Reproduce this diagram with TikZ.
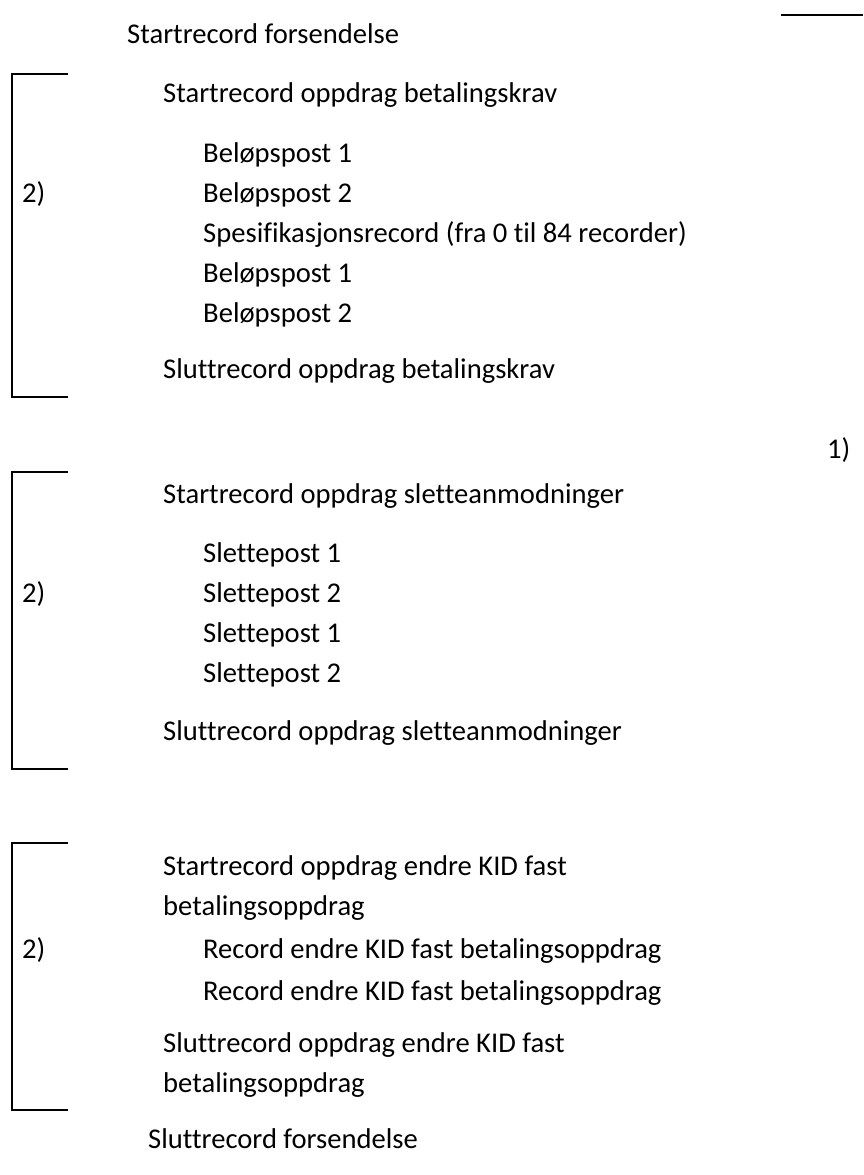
\documentclass[tikz,border=0pt]{standalone}
\usepackage{fontspec}
\setmainfont{Carlito}[Ligatures=NoCommon]
\begin{document}
\begin{tikzpicture}[x=1pt,y=-1pt,
  txt/.style={anchor=base west,inner sep=0pt,font=\fontsize{28.6}{32}\selectfont},
  brk/.style={line width=2pt,line cap=rect}]
\useasboundingbox (0,0) rectangle (863,1175);
% top-right rule
\coordinate (r1) at (781,15);
\coordinate (r2) at (863,15);
\draw[brk,line cap=butt] (r1) -- (r2);
\node[txt] (sf) at (127,43) {Startrecord forsendelse};
% group 1
\coordinate (b1a) at (67,74); \coordinate (b1b) at (12,74);
\coordinate (b1c) at (12,397); \coordinate (b1d) at (67,397);
\draw[brk] (b1a) -- (b1b) -- (b1c) -- (b1d);
\node[txt] (g1n) at (22,202) {2)};
\node[txt] (g1s) at (163,102) {Startrecord oppdrag betalingskrav};
\node[txt] (g1i1) at (203,162) {Beløpspost 1};
\node[txt] (g1i2) at (203,202) {Beløpspost 2};
\node[txt] (g1i3) at (203,242) {Spesifikasjonsrecord (fra 0 til 84 recorder)};
\node[txt] (g1i4) at (203,282) {Beløpspost 1};
\node[txt] (g1i5) at (203,322) {Beløpspost 2};
\node[txt] (g1e) at (163,378) {Sluttrecord oppdrag betalingskrav};
\node[txt] (one) at (827,458) {1)};
% group 2
\coordinate (b2a) at (67,472); \coordinate (b2b) at (12,472);
\coordinate (b2c) at (12,769); \coordinate (b2d) at (67,769);
\draw[brk] (b2a) -- (b2b) -- (b2c) -- (b2d);
\node[txt] (g2n) at (22,602) {2)};
\node[txt] (g2s) at (163,503) {Startrecord oppdrag sletteanmodninger};
\node[txt] (g2i1) at (203,562) {Slettepost 1};
\node[txt] (g2i2) at (203,602) {Slettepost 2};
\node[txt] (g2i3) at (203,642) {Slettepost 1};
\node[txt] (g2i4) at (203,682) {Slettepost 2};
\node[txt] (g2e) at (163,740) {Sluttrecord oppdrag sletteanmodninger};
% group 3
\coordinate (b3a) at (67,843); \coordinate (b3b) at (12,843);
\coordinate (b3c) at (12,1110); \coordinate (b3d) at (67,1110);
\draw[brk] (b3a) -- (b3b) -- (b3c) -- (b3d);
\node[txt] (g3n) at (22,958) {2)};
\node[txt] (g3s1) at (163,875) {Startrecord oppdrag endre KID fast};
\node[txt] (g3s2) at (163,915) {betalingsoppdrag};
\node[txt] (g3i1) at (203,958) {Record endre KID fast betalingsoppdrag};
\node[txt] (g3i2) at (203,1000) {Record endre KID fast betalingsoppdrag};
\node[txt] (g3e1) at (163,1052) {Sluttrecord oppdrag endre KID fast};
\node[txt] (g3e2) at (163,1092) {betalingsoppdrag};
\node[txt] (ef) at (148,1148) {Sluttrecord forsendelse};
\end{tikzpicture}
\end{document}
